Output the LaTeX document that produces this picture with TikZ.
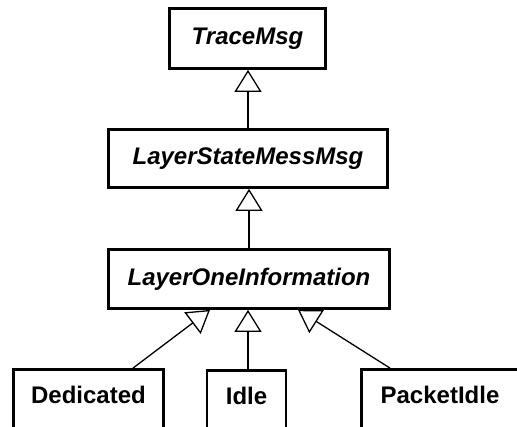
\documentclass[tikz,border=0pt]{standalone}
\usepackage{fontspec}
\setmainfont{Liberation Sans}
\usetikzlibrary{arrows.meta}

\begin{document}
\begin{tikzpicture}[x=1pt, y=-1pt, >={Triangle[open,length=22pt,width=27pt]},
    abstractcls/.style={draw,rectangle,fill=white,line width=2.8pt,inner sep=0pt,
        font=\fontsize{24}{28}\selectfont\bfseries\itshape},
    concretecls/.style={draw,rectangle,fill=white,line width=2.8pt,inner sep=0pt,
        text height=18pt,text depth=17pt,minimum height=68pt,
        font=\fontsize{24}{28}\selectfont\bfseries},
    inherit/.style={->,line width=1.3pt}]
    \clip (0,0) rectangle (517,427);
    \fill[white] (0,0) rectangle (517,427);

    % abstract chain
    \node (trace) at (247.5,38.5) [abstractcls,minimum width=156pt,minimum height=60pt] {TraceMsg};
    \node (state) at (248,158.5) [abstractcls,minimum width=279pt,minimum height=58pt] {LayerStateMessMsg};
    \node (layerone) at (249,279) [abstractcls,minimum width=281pt,minimum height=59pt] {LayerOneInformation};

    % concrete leaves, running off the bottom edge
    \node (dedicated) at (88.5,403.5) [concretecls,minimum width=150pt] {Dedicated};
    \node (idle) at (246.5,404.5) [concretecls,minimum width=79pt] {Idle};
    \node (packet) at (440,403.5) [concretecls,minimum width=157pt] {PacketIdle};

    \draw[inherit] (state.north) -- (state.north |- trace.south);
    \draw[inherit] (layerone.north) -- (layerone.north |- state.south);
    \draw[inherit] ([xshift=44.5pt]dedicated.north) -- ([xshift=-39pt]layerone.south);
    \draw[inherit] ([xshift=1.5pt]idle.north) -- ([xshift=1.5pt]idle.north |- layerone.south);
    \draw[inherit] ([xshift=-50pt]packet.north) -- ([xshift=49pt]layerone.south);
\end{tikzpicture}
\end{document}
